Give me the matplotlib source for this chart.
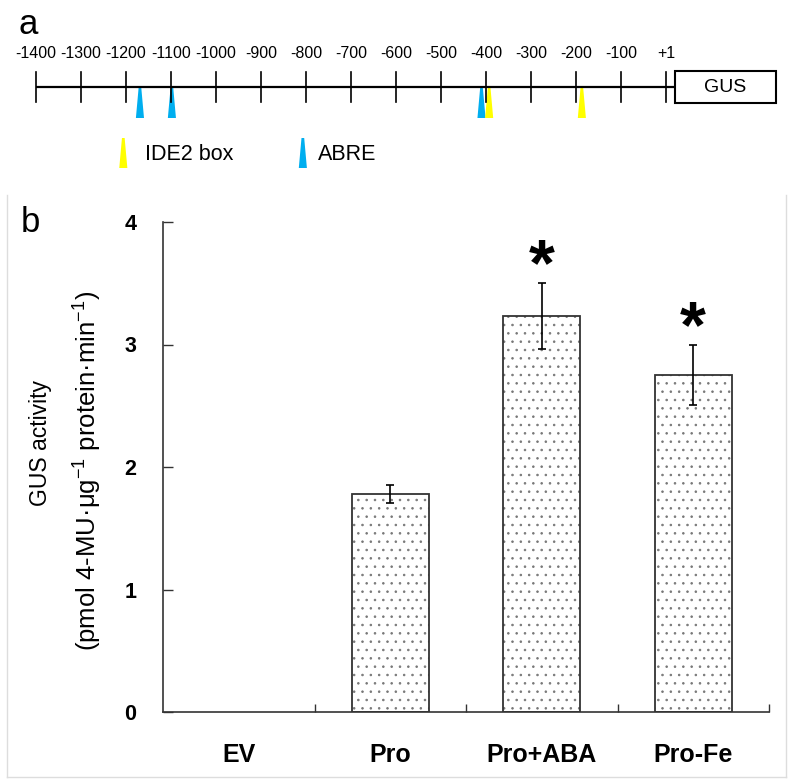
import matplotlib
matplotlib.use("Agg")
import matplotlib.pyplot as plt
from matplotlib.patches import Polygon, Rectangle
from matplotlib.lines import Line2D
import numpy as np

plt.rcParams['font.family'] = ['Liberation Sans', 'DejaVu Sans']
plt.rcParams['mathtext.fontset'] = 'custom'
plt.rcParams['mathtext.rm'] = 'Liberation Sans'
plt.rcParams['mathtext.default'] = 'regular'
plt.rcParams['hatch.linewidth'] = 0.6

# ---------------- data ----------------
# panel a: promoter map
map_ticks = [-1400, -1300, -1200, -1100, -1000, -900, -800, -700, -600, -500, -400, -300, -200, -100, 0]
map_tick_labels = ['-1400', '-1300', '-1200', '-1100', '-1000', '-900', '-800', '-700', '-600', '-500',
                   '-400', '-300', '-200', '-100', '+1']
abre_sites = [-1169, -1098, -410]
ide2_sites = [-393, -187]
legend_labels = ['IDE2 box', 'ABRE']

# panel b: GUS activity
categories = ['EV', 'Pro', 'Pro+ABA', 'Pro-Fe']
values = [0.0, 1.78, 3.23, 2.75]
errors = [0.0, 0.07, 0.27, 0.245]
significant = [False, False, True, True]
y_ticks = [0, 1, 2, 3, 4]

YELLOW = '#FFFF00'
BLUE = '#00AEEF'

W, H = 793, 784
fig = plt.figure(figsize=(W / 100, H / 100), dpi=100)

# ---------------- panel a ----------------
top_h = 184
axa = fig.add_axes([0, 1 - top_h / H, 1, top_h / H])
px_per_bp = 0.45
x0_px = 36
bp_left = -1400 - x0_px / px_per_bp
bp_right = -1400 + (W - x0_px) / px_per_bp
axa.set_xlim(bp_left, bp_right)
axa.set_ylim(top_h, 0)
axa.axis('off')

line_y = 87
gus_start, gus_end = 20, 244
axa.plot([map_ticks[0], gus_start], [line_y, line_y], color='black', lw=1.6, solid_capstyle='butt')
for t, lab in zip(map_ticks, map_tick_labels):
    axa.plot([t, t], [72, 102], color='black', lw=1.2)
    axa.text(t, 53, lab, ha='center', va='center', fontsize=11.5)
axa.add_patch(Rectangle((gus_start, 71), gus_end - gus_start, 32, fill=False, ec='black', lw=1.5))
axa.text((gus_start + gus_end) / 2, 87, 'GUS', ha='center', va='center', fontsize=14)


def wedge(ax, x, ytop, ybot, color, top_hw=3.0, bot_hw=9.0):
    ax.add_patch(Polygon([[x - top_hw, ytop], [x + top_hw, ytop], [x + bot_hw, ybot], [x - bot_hw, ybot]],
                         closed=True, fc=color, ec='none'))


for s in abre_sites:
    wedge(axa, s, 88, 118, BLUE)
for s in ide2_sites:
    wedge(axa, s, 88, 118, YELLOW)

# legend
leg_yellow_x = -1206
leg_blue_x = -807
wedge(axa, leg_yellow_x, 138, 168, YELLOW)
wedge(axa, leg_blue_x, 138, 168, BLUE)
axa.text(leg_yellow_x + 48, 154, legend_labels[0], ha='left', va='center', fontsize=15.5)
axa.text(leg_blue_x + 34, 154, legend_labels[1], ha='left', va='center', fontsize=15.5)

fig.text(28 / W, 1 - 24 / H, 'a', ha='center', va='center', fontsize=25)

# ---------------- panel b ----------------
left, right, bottom, top = 163, 769, 712, 222
axb = fig.add_axes([left / W, 1 - bottom / H, (right - left) / W, (bottom - top) / H])
x = np.arange(len(categories))
bw = 0.51
vals = np.array(values)
mask = vals > 0
axb.bar(x[mask], vals[mask], width=bw, color='white', edgecolor='#777777', hatch='..', lw=0, zorder=2)
axb.bar(x[mask], vals[mask], width=bw, fill=False, edgecolor='#333333', lw=1.3, zorder=3)
for xi, v, e, sig in zip(x, values, errors, significant):
    if e > 0:
        axb.errorbar(xi, v, yerr=e, fmt='none', ecolor='black', elinewidth=1.2, capsize=3, capthick=1.2, zorder=4)
    if sig:
        axb.text(xi, v + e - 0.13, '*', ha='center', va='bottom', fontsize=48, fontweight='bold')

axb.set_xlim(-0.5, len(categories) - 0.5)
axb.set_ylim(0, 4)
axb.set_yticks(y_ticks)
axb.set_yticklabels([str(t) for t in y_ticks], fontsize=15.5, fontweight='bold')
axb.set_xticks(x + 0.5)
axb.set_xticklabels([])
axb.set_xticks(x, minor=True)
axb.set_xticklabels(categories, minor=True, fontsize=18, fontweight='bold')
axb.tick_params(axis='y', direction='in', length=7, width=1.0, color='#333333', pad=19)
axb.tick_params(axis='x', which='major', direction='in', length=6, width=1.0, color='#333333')
axb.tick_params(axis='x', which='minor', length=0, pad=22)
for sp in ['top', 'right']:
    axb.spines[sp].set_visible(False)
for sp in ['left', 'bottom']:
    axb.spines[sp].set_color('#333333')
    axb.spines[sp].set_linewidth(1.2)

fig.text(40 / W, 1 - 443 / H, 'GUS activity', rotation=90, ha='center', va='center', fontsize=16.5)
fig.text(88 / W, 1 - 471 / H, r'(pmol 4-MU·μg$^{-1}$ protein·min$^{-1}$)', rotation=90,
         ha='center', va='center', fontsize=18.5)
fig.text(30 / W, 1 - 222 / H, 'b', ha='center', va='center', fontsize=25)

# light frame around panel b
fc = '#DDDDDD'
fig.add_artist(Line2D([7 / W, 7 / W], [1 - 195 / H, 1 - 777 / H], color=fc, lw=1))
fig.add_artist(Line2D([7 / W, 786 / W], [1 - 777 / H, 1 - 777 / H], color=fc, lw=1))
fig.add_artist(Line2D([786 / W, 786 / W], [1 - 195 / H, 1 - 777 / H], color=fc, lw=1))

fig.savefig('out.png', dpi=100)
